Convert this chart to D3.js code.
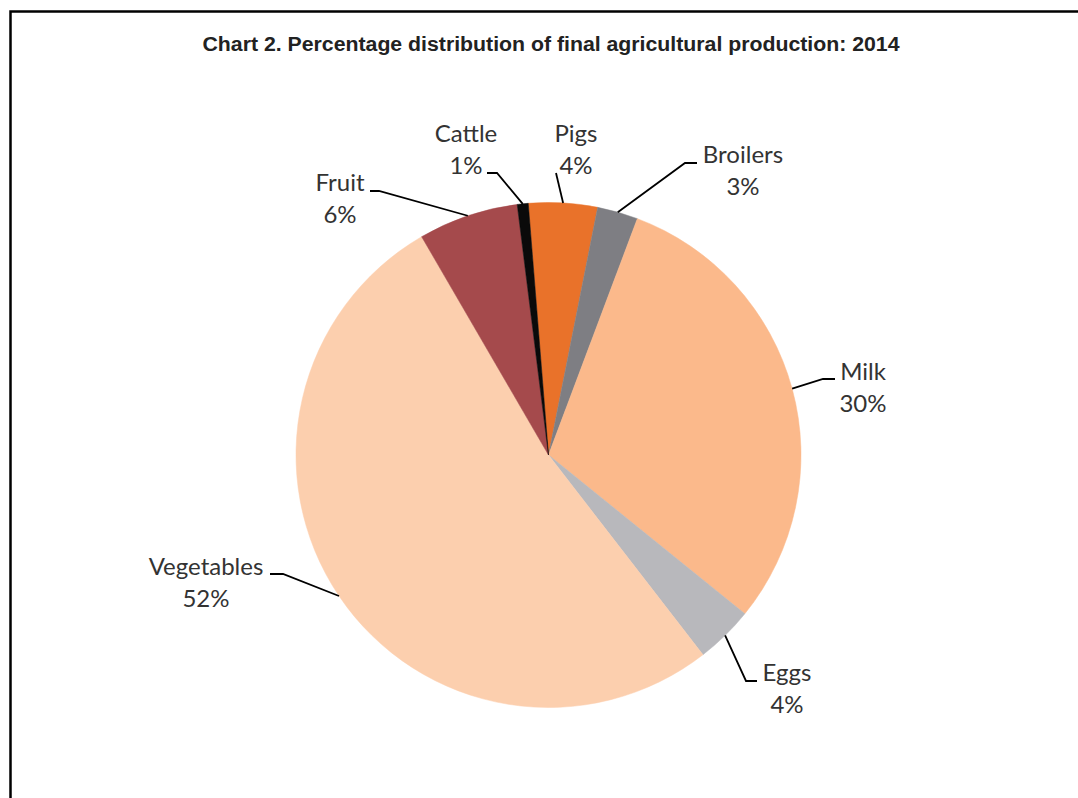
<!DOCTYPE html>
<html>
<head>
<meta charset="utf-8">
<script src="https://cdn.jsdelivr.net/npm/d3@7"></script>
<style>
  html, body { margin: 0; padding: 0; background: #fff; }
  svg { display: block; }
</style>
</head>
<body>
<svg id="chart" width="1078" height="798"></svg>
<script>
// ---- data ----
const categories = ["Pigs", "Broilers", "Milk", "Eggs", "Vegetables", "Fruit", "Cattle"];
const values = [4.4, 2.6, 30.1, 3.7, 52.1, 6.4, 0.7];
const percentLabels = ["4%", "3%", "30%", "4%", "52%", "6%", "1%"];
const colors = ["#E9722A", "#7E7E83", "#FBB98B", "#B8B8BC", "#FCCFAE", "#A54A4C", "#0A0A0A"];
const title = "Chart 2. Percentage distribution of final agricultural production: 2014";

// ---- label layout (positions of text & elbows) ----
const labelLayout = {
  "Pigs":       { tx: 576, ty: 142, elbow: null,        end: [556, 173] },
  "Broilers":   { tx: 743, ty: 163, elbow: [685, 163],  end: [697, 163] },
  "Milk":       { tx: 863, ty: 380, elbow: [823, 379],  end: [835, 379] },
  "Eggs":       { tx: 787, ty: 681, elbow: [746, 681],  end: [757, 681] },
  "Vegetables": { tx: 206, ty: 575, elbow: [283, 574],  end: [270, 574] },
  "Fruit":      { tx: 340, ty: 191, elbow: [379, 191],  end: [370, 191] },
  "Cattle":     { tx: 466, ty: 142, elbow: [497, 173],  end: [487, 173] }
};

const svg = d3.select("#chart");

// border
svg.append("rect")
  .attr("x", 10.5).attr("y", 11.5)
  .attr("width", 1200).attr("height", 1000)
  .attr("fill", "none").attr("stroke", "#000").attr("stroke-width", 2.5);

// title
svg.append("text")
  .attr("x", 551).attr("y", 51)
  .attr("text-anchor", "middle")
  .attr("font-family", "'Liberation Sans', Arial, sans-serif")
  .attr("font-weight", "bold")
  .attr("font-size", 20)
  .attr("textLength", 697)
  .attr("lengthAdjust", "spacingAndGlyphs")
  .attr("fill", "#222")
  .text(title);

const cx = 548.5, cy = 455, r = 252.5;
const startDeg = -4.6;
const data = categories.map((c, i) => ({ name: c, value: values[i], label: percentLabels[i], color: colors[i] }));

const pie = d3.pie().sort(null).value(d => d.value)
  .startAngle(startDeg * Math.PI / 180)
  .endAngle((startDeg + 360) * Math.PI / 180);
const arcs = pie(data);
const arc = d3.arc().innerRadius(0).outerRadius(r);

const g = svg.append("g").attr("transform", `translate(${cx},${cy})`);
g.selectAll("path.slice").data(arcs).enter().append("path")
  .attr("class", "slice")
  .attr("d", arc)
  .attr("fill", d => d.data.color)
  .attr("stroke", d => d.data.color)
  .attr("stroke-width", 0.5);

// leader lines
arcs.forEach(a => {
  const L = labelLayout[a.data.name];
  const mid = (a.startAngle + a.endAngle) / 2;
  const px = cx + r * Math.sin(mid), py = cy - r * Math.cos(mid);
  const pts = [[px, py]];
  if (L.elbow) pts.push(L.elbow);
  pts.push(L.end);
  svg.append("path")
    .attr("d", d3.line()(pts))
    .attr("fill", "none")
    .attr("stroke", "#000")
    .attr("stroke-width", 1.8);
});

// labels
arcs.forEach(a => {
  const L = labelLayout[a.data.name];
  const t = svg.append("text")
    .attr("text-anchor", "middle")
    .attr("font-family", "Lato, 'Open Sans', sans-serif")
    .attr("font-size", 24)
    .attr("fill", "#333");
  t.append("tspan").attr("x", L.tx).attr("y", L.ty).text(a.data.name);
  t.append("tspan").attr("x", L.tx).attr("y", L.ty + 32).text(a.data.label);
});
</script>
</body>
</html>
